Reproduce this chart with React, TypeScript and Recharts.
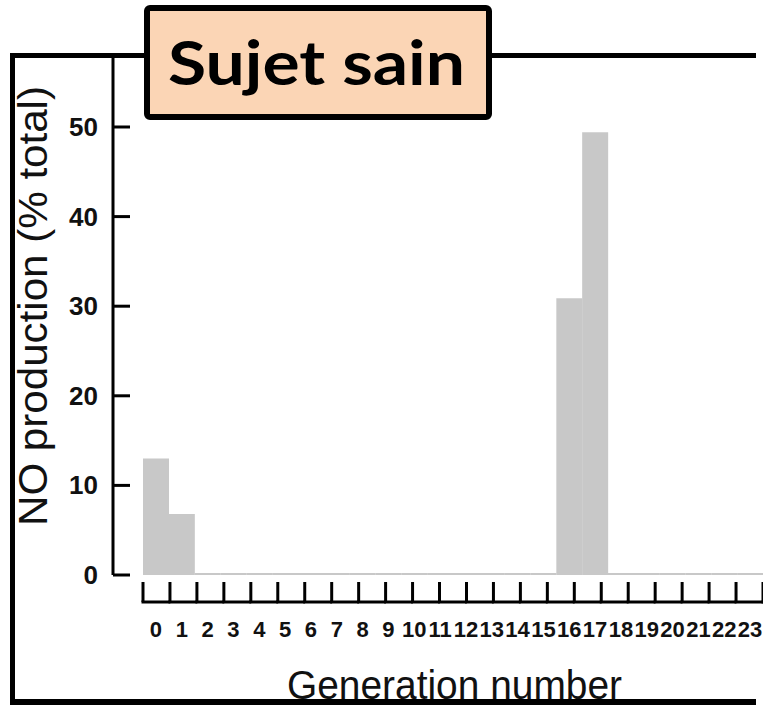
import { Bar, BarChart, XAxis, YAxis } from "recharts";

// share of NO production per airway generation
const GENERATIONS = [0, 1, 2, 3, 4, 5, 6, 7, 8, 9, 10, 11, 12, 13, 14, 15, 16, 17, 18, 19, 20, 21, 22, 23];
const NO_SHARE = [13, 6.8, 0, 0, 0, 0, 0, 0, 0, 0, 0, 0, 0, 0, 0, 0, 30.9, 49.4, 0, 0, 0, 0, 0, 0];
const Y_TICKS = [0, 10, 20, 30, 40, 50];
const BIN_EDGES = [0, 1, 2, 3, 4, 5, 6, 7, 8, 9, 10, 11, 12, 13, 14, 15, 16, 17, 18, 19, 20, 21, 22, 23, 24];

const W = 763;
const H = 705;
const AXIS_X = 113;
const PAD_LEFT = 30;
const BIN_PX = (W - AXIS_X - PAD_LEFT) / GENERATIONS.length;

const rows = GENERATIONS.map((g, i) => ({ gen: String(g), value: NO_SHARE[i] }));

const YTick = ({ x, y, payload }: any) => (
  <g>
    <line x1={x} x2={x + 17} y1={y} y2={y} stroke="#000" strokeWidth={3} />
    <text x={x - 15} y={y} textAnchor="end" dominantBaseline="central"
      fontSize={26} fontWeight="bold" fill="#111">{payload.value}</text>
  </g>
);

// boundary ticks pointing up, plus the axis segment of each bin
const BinTick = ({ x, y, payload }: any) => (
  <g>
    <line x1={x} x2={x} y1={y - 20} y2={y} stroke="#000" strokeWidth={3} />
    {payload.value < 24 && (
      <line x1={x - 1.5} x2={x + BIN_PX + 1.5} y1={y} y2={y} stroke="#000" strokeWidth={3} />
    )}
  </g>
);

export default function App() {
  return (
    <div style={{ position: "absolute", left: 0, top: 0, width: W, height: H, background: "#fff",
      fontFamily: "'Liberation Sans', Arial, sans-serif", overflow: "hidden" }}>
      <BarChart width={W} height={H} data={rows} barCategoryGap={0}
        margin={{ top: 58, right: 0, bottom: 0, left: 0 }}>
        <XAxis xAxisId={0} dataKey="gen" type="category" height={27} interval={0}
          padding={{ left: PAD_LEFT, right: 0 }} axisLine={false} tickLine={false}
          tickSize={0} tickMargin={46}
          tick={{ fontSize: 22, fontWeight: "bold", fill: "#111" }} />
        <XAxis xAxisId={1} type="number" domain={[0, 24]} ticks={BIN_EDGES} height={103}
          interval={0} allowDataOverflow padding={{ left: PAD_LEFT, right: 0 }} axisLine={false}
          tickLine={false} tickSize={0} tickMargin={0} tick={<BinTick />} />
        <YAxis type="number" domain={[0, 57.7]} ticks={Y_TICKS} width={AXIS_X} allowDataOverflow
          axisLine={{ stroke: "#000", strokeWidth: 3 }} tickLine={false} tickSize={0} tickMargin={0}
          tick={<YTick />} />
        <Bar xAxisId={0} dataKey="value" fill="#c8c8c8" minPointSize={2} isAnimationActive={false} />
      </BarChart>
      <svg width={W} height={H} style={{ position: "absolute", left: 0, top: 0, pointerEvents: "none" }}>
        <text x={47} y={306} transform="rotate(-90 47 306)" textAnchor="middle" fontSize={40}
          textLength={440} lengthAdjust="spacingAndGlyphs" fill="#111">NO production (% total)</text>
        <text x={287} y={699} fontSize={41} textLength={335} lengthAdjust="spacingAndGlyphs"
          fill="#111">Generation number</text>
        <rect x={10} y={53} width={5} height={652} fill="#000" />
        <rect x={10} y={53} width={746} height={5} fill="#000" />
        <rect x={10} y={699} width={746} height={6} fill="#000" />
        <rect x={147} y={8} width={342} height={109} rx={3} fill="#fbd5b5" stroke="#000" strokeWidth={6} />
        <text x={168} y={85} fontFamily="Lato, 'Open Sans', sans-serif" fontWeight="bold" fontSize={62}
          textLength={297} lengthAdjust="spacingAndGlyphs" fill="#000">Sujet sain</text>
      </svg>
    </div>
  );
}
